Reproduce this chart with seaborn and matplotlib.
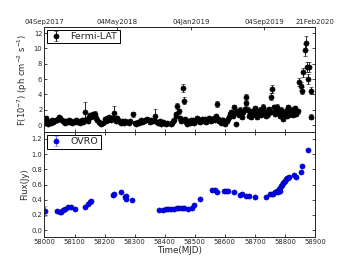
import matplotlib
matplotlib.use("Agg")
import matplotlib.pyplot as plt
import seaborn as sns

# Fermi-LAT light curve (MJD, flux in 1e-7 ph cm-2 s-1, error)
fermi_mjd = [
    58002, 58005, 58009, 58013, 58017, 58021, 58025, 58029, 58033, 58037,
    58041, 58045, 58049, 58053, 58057, 58061, 58065, 58069, 58073, 58077,
    58081, 58085, 58089, 58093, 58097, 58101, 58105, 58109, 58113, 58117,
    58121, 58125, 58129, 58133, 58136, 58140, 58144, 58148, 58152, 58156,
    58160, 58164, 58168, 58172, 58176, 58180, 58184, 58188, 58196, 58200,
    58204, 58208, 58212, 58216, 58220, 58224, 58230, 58234, 58238, 58242,
    58246, 58250, 58254, 58258, 58263, 58268, 58274, 58280, 58286, 58293,
    58300, 58305, 58310, 58315, 58320, 58325, 58330, 58335, 58340, 58345,
    58350, 58355, 58360, 58365, 58369, 58373, 58378, 58383, 58388, 58393,
    58398, 58403, 58408, 58420, 58424, 58428, 58432, 58436, 58439, 58442,
    58446, 58450, 58454, 58461, 58463, 58467, 58471, 58475, 58479, 58483,
    58487, 58491, 58495, 58499, 58503, 58507, 58511, 58515, 58519, 58523,
    58527, 58531, 58535, 58539, 58543, 58547, 58551, 58555, 58559, 58563,
    58567, 58571, 58574, 58578, 58582, 58586, 58590, 58594, 58598, 58602,
    58606, 58610, 58614, 58618, 58622, 58626, 58630, 58634, 58638, 58642,
    58646, 58650, 58654, 58658, 58662, 58666, 58670, 58672, 58676, 58680,
    58684, 58688, 58692, 58696, 58700, 58704, 58708, 58712, 58716, 58720,
    58724, 58728, 58732, 58736, 58740, 58744, 58748, 58752, 58755, 58758,
    58762, 58766, 58770, 58774, 58778, 58782, 58786, 58790, 58794, 58798,
    58802, 58806, 58810, 58814, 58818, 58822, 58826, 58830, 58834, 58838,
    58842, 58847, 58852, 58858, 58861, 58866, 58869, 58875, 58878, 58880,
    58886, 58888,
]
fermi_flux = [
    0.3, 0.9, 0.4, 0.2, 0.5, 0.3, 0.6, 0.4, 0.5, 0.7,
    0.6, 0.8, 1.0, 0.9, 0.6, 0.5, 0.4, 0.3, 0.5, 0.4,
    0.6, 0.4, 0.5, 0.3, 0.4, 0.5, 0.6, 0.4, 0.5, 0.3,
    0.5, 0.6, 0.4, 0.7, 1.75, 0.8, 0.5, 1.0, 1.3, 1.1,
    1.4, 1.2, 1.5, 0.9, 0.6, 0.4, 0.3, 0.2, 0.3, 0.8,
    0.5, 0.9, 0.6, 1.0, 0.7, 0.9, 1.6, 0.8, 0.5, 0.9,
    0.6, 0.4, 0.3, 0.5, 0.3, 0.5, 0.4, 0.3, 0.5, 1.4,
    0.3, 0.2, 0.4, 0.3, 0.6, 0.4, 0.5, 0.7, 0.8, 0.6,
    0.4, 0.7, 0.5, 0.6, 1.2, 0.4, 0.3, 0.5, 0.2, 0.4,
    0.3, 0.2, 0.3, 0.1, 0.3, 0.5, 0.6, 1.45, 1.2, 2.5,
    1.8, 0.9, 0.5, 4.8, 3.2, 0.8, 0.4, 0.2, 0.5, 0.3,
    0.6, 0.4, 0.7, 0.3, 0.6, 0.9, 0.5, 0.7, 0.4, 0.8,
    0.6, 0.5, 0.8, 0.4, 0.6, 0.9, 0.7, 0.5, 0.6, 0.9,
    0.7, 1.2, 2.7, 0.8, 0.5, 0.3, 0.7, 0.6, 0.4, 0.2,
    0.5, 0.8, 1.0, 1.4, 1.7, 1.2, 2.3, 1.6, 0.2, 1.8,
    1.3, 2.0, 1.5, 1.1, 1.7, 2.1, 3.6, 2.9, 2.0, 1.2,
    1.6, 1.0, 1.8, 1.4, 2.2, 1.5, 1.1, 1.7, 2.0, 1.3,
    1.8, 2.4, 1.6, 1.2, 1.9, 1.4, 2.1, 1.7, 3.7, 4.7,
    2.3, 1.5, 1.9, 2.4, 1.7, 1.2, 2.0, 1.4, 0.8, 1.5,
    1.9, 1.2, 2.3, 1.8, 1.4, 2.0, 1.3, 1.7, 2.2, 1.5,
    1.8, 5.6, 5.1, 4.5, 6.9, 9.8, 10.7, 7.6, 6.0, 7.6,
    4.5, 1.1,
]
fermi_err = [
    0.2, 0.3, 0.2, 0.2, 0.2, 0.2, 0.2, 0.2, 0.2, 0.2,
    0.2, 0.2, 0.25, 0.25, 0.2, 0.2, 0.2, 0.2, 0.2, 0.2,
    0.2, 0.2, 0.2, 0.2, 0.2, 0.2, 0.2, 0.2, 0.2, 0.2,
    0.2, 0.2, 0.2, 0.25, 1.3, 0.25, 0.2, 0.25, 0.3, 0.25,
    0.3, 0.3, 0.3, 0.25, 0.2, 0.2, 0.2, 0.2, 0.2, 0.2,
    0.2, 0.25, 0.2, 0.25, 0.2, 0.25, 0.95, 0.2, 0.2, 0.25,
    0.2, 0.2, 0.2, 0.2, 0.2, 0.2, 0.2, 0.2, 0.2, 0.3,
    0.2, 0.2, 0.2, 0.2, 0.2, 0.2, 0.2, 0.2, 0.25, 0.2,
    0.2, 0.2, 0.2, 0.2, 0.9, 0.2, 0.2, 0.2, 0.2, 0.2,
    0.2, 0.2, 0.2, 0.2, 0.2, 0.2, 0.2, 0.3, 0.3, 0.35,
    0.3, 0.25, 0.2, 0.5, 0.4, 0.2, 0.2, 0.2, 0.2, 0.2,
    0.2, 0.2, 0.2, 0.2, 0.2, 0.25, 0.2, 0.2, 0.2, 0.2,
    0.2, 0.2, 0.2, 0.2, 0.2, 0.25, 0.2, 0.2, 0.2, 0.25,
    0.2, 0.25, 0.4, 0.2, 0.2, 0.2, 0.2, 0.2, 0.2, 0.2,
    0.2, 0.2, 0.25, 0.3, 0.3, 0.25, 0.3, 0.3, 0.2, 0.3,
    0.25, 0.3, 0.3, 0.25, 0.3, 0.3, 0.45, 0.4, 0.3, 0.25,
    0.3, 0.25, 0.3, 0.3, 0.3, 0.3, 0.25, 0.3, 0.3, 0.25,
    0.3, 0.35, 0.3, 0.25, 0.3, 0.3, 0.3, 0.3, 0.45, 0.5,
    0.35, 0.3, 0.3, 0.35, 0.3, 0.25, 0.3, 0.3, 0.25, 0.3,
    0.3, 0.25, 0.35, 0.3, 0.3, 0.3, 0.25, 0.3, 0.3, 0.3,
    0.3, 0.5, 0.5, 0.5, 0.6, 0.8, 0.9, 0.65, 0.6, 0.65,
    0.5, 0.3,
]

# OVRO 15 GHz light curve (MJD, flux in Jy, error)
ovro_mjd = [
    58001, 58042, 58051, 58055, 58061, 58068, 58080, 58088, 58100, 58135,
    58146, 58152, 58156, 58229, 58232, 58256, 58268, 58270, 58272, 58291,
    58382, 58393, 58405, 58412, 58420, 58430, 58440, 58447, 58456, 58465,
    58478, 58490, 58497, 58519, 58558, 58567, 58575, 58597, 58605, 58612,
    58630, 58649, 58658, 58669, 58682, 58702, 58736, 58750, 58756, 58760,
    58768, 58772, 58776, 58779, 58782, 58785, 58788, 58791, 58794, 58797,
    58800, 58803, 58806, 58810, 58814, 58830, 58836, 58855, 58858, 58876,
]
ovro_flux = [
    0.25, 0.255, 0.235, 0.245, 0.265, 0.28, 0.30, 0.30, 0.285, 0.305,
    0.35, 0.37, 0.38, 0.465, 0.48, 0.50, 0.43, 0.45, 0.415, 0.40,
    0.265, 0.27, 0.275, 0.28, 0.285, 0.285, 0.29, 0.29, 0.29, 0.295,
    0.285, 0.295, 0.33, 0.41, 0.525, 0.53, 0.50, 0.51, 0.52, 0.515,
    0.50, 0.465, 0.47, 0.455, 0.455, 0.43, 0.435, 0.47, 0.48, 0.47,
    0.50, 0.52, 0.50, 0.54, 0.52, 0.56, 0.58, 0.60, 0.62, 0.63,
    0.65, 0.67, 0.68, 0.69, 0.70, 0.72, 0.705, 0.765, 0.84, 1.06,
]
ovro_err = [
    0.065, 0.01, 0.01, 0.01, 0.01, 0.01, 0.01, 0.01, 0.01, 0.01,
    0.01, 0.01, 0.01, 0.01, 0.01, 0.01, 0.01, 0.01, 0.01, 0.01,
    0.01, 0.01, 0.01, 0.01, 0.01, 0.01, 0.01, 0.01, 0.01, 0.01,
    0.01, 0.01, 0.01, 0.01, 0.01, 0.01, 0.01, 0.01, 0.01, 0.01,
    0.01, 0.01, 0.01, 0.01, 0.01, 0.01, 0.01, 0.01, 0.01, 0.01,
    0.01, 0.01, 0.01, 0.01, 0.01, 0.01, 0.01, 0.03, 0.01, 0.01,
    0.01, 0.01, 0.01, 0.01, 0.01, 0.01, 0.01, 0.01, 0.01, 0.01,
]

date_ticks = [58000, 58242, 58487, 58730, 58900]
date_labels = ["04Sep2017", "04May2018", "04Jan2019", "04Sep2019", "21Feb2020"]

sns.set_style("ticks", {"xtick.direction": "in", "ytick.direction": "in"})
plt.rcParams["font.family"] = ["DejaVu Sans"]
plt.rcParams["axes.linewidth"] = 0.7
plt.rcParams["xtick.major.width"] = 0.6
plt.rcParams["ytick.major.width"] = 0.6
plt.rcParams["xtick.major.size"] = 2.5
plt.rcParams["ytick.major.size"] = 2.5

fig, (ax1, ax2) = plt.subplots(2, 1, sharex=True, figsize=(3.5, 2.64), dpi=100)
fig.subplots_adjust(left=0.127, right=0.9, top=0.898, bottom=0.102, hspace=0)

# top panel: Fermi-LAT
ax1.errorbar(
    fermi_mjd, fermi_flux, yerr=fermi_err,
    fmt="o", color="black", ms=3.7, mec="black", mew=0.4,
    elinewidth=0.6, capsize=1.5, capthick=0.6, label="Fermi-LAT",
)
ax1.set_ylim(-0.9, 12.8)
ax1.set_yticks([0, 2, 4, 6, 8, 10, 12])
ax1.set_ylabel(r"F(10$^{-7}$) (ph cm$^{-2}$ s$^{-1}$)", fontsize=6, labelpad=1)
ax1.tick_params(axis="both", labelsize=4.9, pad=1.5, right=True, top=False)
ax1.tick_params(axis="x", labelbottom=False)

top = ax1.secondary_xaxis("top")
top.set_xticks(date_ticks)
top.set_xticklabels(date_labels, fontsize=5)
top.tick_params(direction="in", length=2.5, width=0.6, pad=1.5)

# bottom panel: OVRO
ax2.errorbar(
    ovro_mjd, ovro_flux, yerr=ovro_err,
    fmt="o", color="#0000ff", ms=3.7, mec="#00008b", mew=0.4,
    ecolor="#6f6fff", elinewidth=0.6, capsize=1.5, capthick=0.6, label="OVRO",
)
ax2.set_ylim(-0.09, 1.29)
ax2.set_yticks([0.0, 0.2, 0.4, 0.6, 0.8, 1.0, 1.2])
ax2.set_xlim(58000, 58900)
ax2.set_xticks(range(58000, 58901, 100))
ax2.set_ylabel("Flux(Jy)", fontsize=6, labelpad=2)
ax2.set_xlabel("Time(MJD)", fontsize=6.3, labelpad=0.5)
ax2.tick_params(axis="both", labelsize=4.9, pad=1.5, right=True, top=True)

for ax in (ax1, ax2):
    sns.despine(ax=ax, top=False, right=False)
    leg = ax.legend(loc="upper left", numpoints=1, fontsize=6.8, fancybox=False,
                    borderpad=0.25, handlelength=1.3, handletextpad=0.9,
                    borderaxespad=0.3)
    leg.get_frame().set_edgecolor("black")
    leg.get_frame().set_linewidth(0.7)
    leg.get_frame().set_alpha(1)

fig.align_ylabels([ax1, ax2])
plt.savefig("out.png", dpi=100)
